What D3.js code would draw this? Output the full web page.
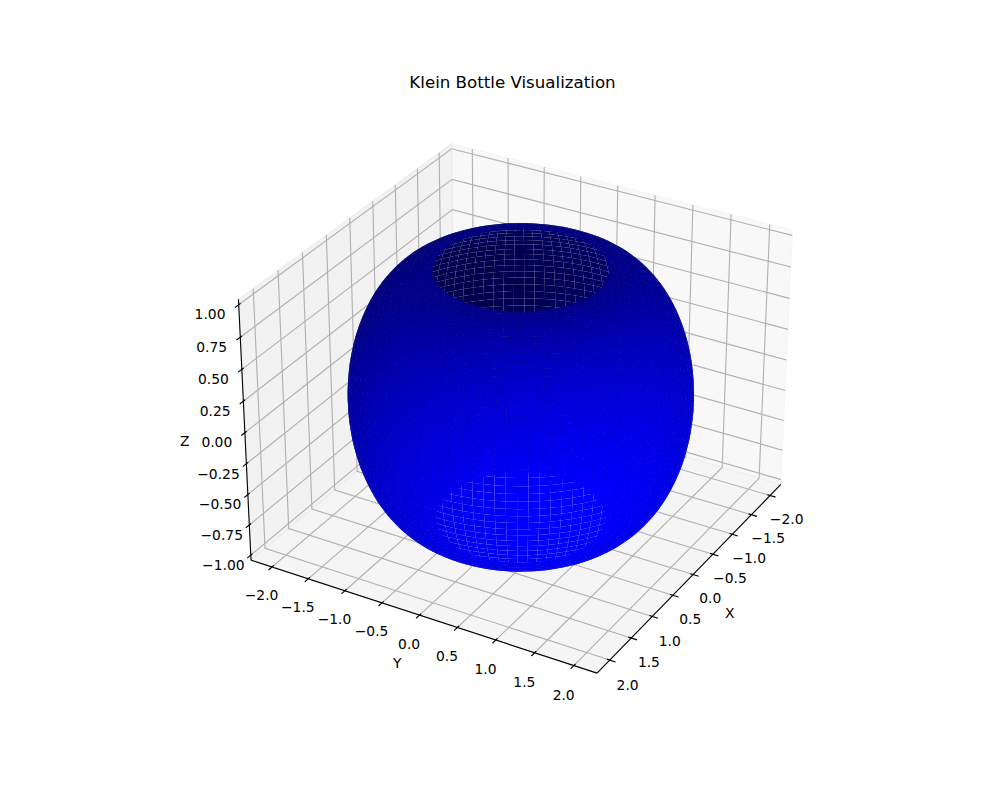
<!DOCTYPE html>
<html>
<head>
<meta charset="utf-8">
<script src="https://cdnjs.cloudflare.com/ajax/libs/d3/7.8.5/d3.min.js"></script>
<style>
html,body{margin:0;padding:0;background:#fff}
svg{display:block}
text{font-family:"DejaVu Sans";fill:#000}
</style>
</head>
<body>
<svg id="chart" width="1000" height="800"></svg>
<script>
// ---- chart content ----
const chartTitle = "Klein Bottle Visualization";
const xLabel = "X", yLabel = "Y", zLabel = "Z";
const xLimits = [-2.2, 2.2];
const yLimits = [-2.2, 2.2];
const zLimits = [-1, 1];
const xTicks = [-2, -1.5, -1, -0.5, 0, 0.5, 1, 1.5, 2];
const yTicks = [-2, -1.5, -1, -0.5, 0, 0.5, 1, 1.5, 2];
const zTicks = [-1, -0.75, -0.5, -0.25, 0, 0.25, 0.5, 0.75, 1];
// half profile of the shell, from its widest ring to its rim
const profileHeight = [0,.0628,.1253,.1874,.2487,.3090,.3681,.4258,.4818,.5358,.5878,.6374,.6845,.7290,.7705,.8090,.8443,.8763,.9048,.9298,.9511,.9686,.9823,.9921,.9980,1];
const profileRadius = [2,1.998,1.992,1.982,1.969,1.951,1.930,1.905,1.876,1.844,1.809,1.771,1.729,1.685,1.637,1.588,1.536,1.482,1.426,1.368,1.309,1.249,1.187,1.125,1.063,1];
const meshSegments = 100;

// ---- 3D view ----
const elev = 30 * Math.PI / 180, azim = 30 * Math.PI / 180, dist = 10;
const boxBase = 1.8294640721620434 / Math.hypot(4, 4, 3);
const box = [4 * boxBase, 4 * boxBase, 3 * boxBase];
const sx = d3.scaleLinear().domain(xLimits).range([-box[0] / 2, box[0] / 2]);
const sy = d3.scaleLinear().domain(yLimits).range([-box[1] / 2, box[1] / 2]);
const sz = d3.scaleLinear().domain(zLimits).range([-box[2] / 2, box[2] / 2]);
const w = [Math.cos(elev) * Math.cos(azim), Math.cos(elev) * Math.sin(azim), Math.sin(elev)];
const uu = [-Math.sin(azim), Math.cos(azim), 0];
const vv = [w[1] * uu[2] - w[2] * uu[1], w[2] * uu[0] - w[0] * uu[2], w[0] * uu[1] - w[1] * uu[0]];
const dot = (a, b) => a[0] * b[0] + a[1] * b[1] + a[2] * b[2];
const px = d3.scaleLinear().domain([-0.95 / dist, 0.9 / dist]).range([204.5, 820.5]);
const py = d3.scaleLinear().domain([-0.95 / dist, 0.9 / dist]).range([712, 96]);
function depth(p) { return dot([sx(p[0]), sy(p[1]), sz(p[2])], w); }
function project(p) {
  const b = [sx(p[0]), sy(p[1]), sz(p[2])];
  const d = dist - dot(b, w);
  return [px(dot(b, uu) / d), py(dot(b, vv) / d)];
}
const svg = d3.select("#chart");
const line = d3.line();

// padded pane limits
const pad = l => { const e = (l[1] - l[0]) / 48; return [l[0] - e, l[1] + e]; };
const X = pad(xLimits), Y = pad(yLimits), Z = pad(zLimits);
const dX = (xLimits[1] - xLimits[0]) / 12, dY = (yLimits[1] - yLimits[0]) / 12, dZ = (zLimits[1] - zLimits[0]) / 12;

// ---- panes ----
const panes = [
  {fill: "rgba(242,242,242,0.5)", pts: [[X[0],Y[0],Z[0]],[X[0],Y[1],Z[0]],[X[0],Y[1],Z[1]],[X[0],Y[0],Z[1]]]},
  {fill: "rgba(230,230,230,0.5)", pts: [[X[0],Y[0],Z[0]],[X[1],Y[0],Z[0]],[X[1],Y[0],Z[1]],[X[0],Y[0],Z[1]]]},
  {fill: "rgba(236,236,236,0.5)", pts: [[X[0],Y[0],Z[0]],[X[1],Y[0],Z[0]],[X[1],Y[1],Z[0]],[X[0],Y[1],Z[0]]]}
];
svg.append("g").selectAll("path").data(panes).join("path")
  .attr("d", d => line(d.pts.map(project)) + "Z")
  .attr("fill", d => d.fill).attr("stroke", d => d.fill).attr("stroke-width", 1.11);

// ---- grid ----
const gridLines = [
  ...xTicks.map(t => [[t,Y[1],Z[0]],[t,Y[0],Z[0]],[t,Y[0],Z[1]]]),
  ...yTicks.map(t => [[X[1],t,Z[0]],[X[0],t,Z[0]],[X[0],t,Z[1]]]),
  ...zTicks.map(t => [[X[1],Y[0],t],[X[0],Y[0],t],[X[0],Y[1],t]])
];
svg.append("g").selectAll("path").data(gridLines).join("path")
  .attr("d", d => line(d.map(project)))
  .attr("fill", "none").attr("stroke", "#b0b0b0").attr("stroke-width", 1.11);

// ---- axis lines and ticks ----
const axisLines = [
  [[X[0],Y[1],Z[0]],[X[1],Y[1],Z[0]]],
  [[X[1],Y[0],Z[0]],[X[1],Y[1],Z[0]]],
  [[X[1],Y[0],Z[0]],[X[1],Y[0],Z[1]]]
];
const inF = 0.1, outF = 0.2;
const tickLines = [
  ...xTicks.map(t => [[t,Y[1]-inF*dY,Z[0]],[t,Y[1]+outF*dY,Z[0]]]),
  ...yTicks.map(t => [[X[1]-inF*dX,t,Z[0]],[X[1]+outF*dX,t,Z[0]]]),
  ...zTicks.map(t => [[X[1]-inF*dX,Y[0],t],[X[1]+outF*dX,Y[0],t]])
];
svg.append("g").selectAll("path").data([...axisLines, ...tickLines]).join("path")
  .attr("d", d => line(d.map(project)))
  .attr("fill", "none").attr("stroke", "#000").attr("stroke-width", 1.11);

// ---- surface ----
const rings = [
  ...profileHeight.map((h, i) => ({h: -h, r: profileRadius[i]})).reverse(),
  ...profileHeight.slice(1).map((h, i) => ({h: h, r: profileRadius[i + 1]}))
];
const angles = d3.range(meshSegments + 1).map(i => i * 2 * Math.PI / meshSegments);
const vertex = (ring, a) => [ring.r * Math.cos(a), ring.r * Math.sin(a), ring.h];
const faces = [];
const light = [Math.cos(-135 * Math.PI / 180) * Math.cos(19.4712 * Math.PI / 180),
               Math.sin(-135 * Math.PI / 180) * Math.cos(19.4712 * Math.PI / 180),
               Math.sin(19.4712 * Math.PI / 180)];
const shadeScale = d3.scaleLinear().domain([-1, 1]).range([0.3, 1]);
for (let i = 0; i < rings.length - 1; i++) {
  for (let j = 0; j < meshSegments; j++) {
    const q = [vertex(rings[i], angles[j]), vertex(rings[i], angles[j + 1]),
               vertex(rings[i + 1], angles[j + 1]), vertex(rings[i + 1], angles[j])];
    const a = q[0].map((c, k) => c - q[2][k]), b = q[1].map((c, k) => c - q[3][k]);
    const n = [a[1]*b[2]-a[2]*b[1], a[2]*b[0]-a[0]*b[2], a[0]*b[1]-a[1]*b[0]];
    const len = Math.hypot(...n);
    const mid = [d3.mean(q, p => p[0]), d3.mean(q, p => p[1]), d3.mean(q, p => p[2])];
    // normals face the inside of the shell
    const s0 = (n[0]*mid[0] + n[1]*mid[1]) > 0 ? -1 : 1;
    const shade = s0 * dot(n, light) / len;
    faces.push({q, depth: d3.mean(q, depth), blue: Math.round(255 * shadeScale(shade))});
  }
}
faces.sort((a, b) => a.depth - b.depth);
svg.append("g").selectAll("path").data(faces).join("path")
  .attr("d", d => line(d.q.map(project)) + "Z")
  .attr("fill", d => `rgb(0,0,${d.blue})`);

// ---- labels ----
const fmt1 = d3.format(".1f"), fmt2 = d3.format(".2f");
const uminus = s => s.replace("-", "\u2212");
const tF = 0.622, lF = 1.33, tickLabelDrop = 6;
const labels = [
  ...xTicks.map(t => ({p: [t, Y[1] + tF*dY, Z[0] - tF*dZ], s: uminus(fmt1(t)), dy: tickLabelDrop})),
  ...yTicks.map(t => ({p: [X[1] + tF*dX, t, Z[0] - tF*dZ], s: uminus(fmt1(t)), dy: tickLabelDrop})),
  ...zTicks.map(t => ({p: [X[1] + tF*dX, Y[0] - tF*dY, t], s: uminus(fmt2(t)), dy: tickLabelDrop})),
  {p: [0, Y[1] + lF*dY, Z[0] - lF*dZ], s: xLabel, dy: 0},
  {p: [X[1] + lF*dX, 0, Z[0] - lF*dZ], s: yLabel, dy: 0},
  {p: [X[1] + lF*dX, Y[0] - lF*dY, 0], s: zLabel, dy: 0}
];
svg.append("g").selectAll("text").data(labels).join("text")
  .attr("x", d => project(d.p)[0]).attr("y", d => project(d.p)[1] + d.dy)
  .attr("text-anchor", "middle").attr("dominant-baseline", "central")
  .style("font-size", "13.89px").text(d => d.s);
svg.append("text").attr("x", 512.5).attr("y", 88).attr("text-anchor", "middle")
  .style("font-size", "16.67px").text(chartTitle);
</script>
</body>
</html>
